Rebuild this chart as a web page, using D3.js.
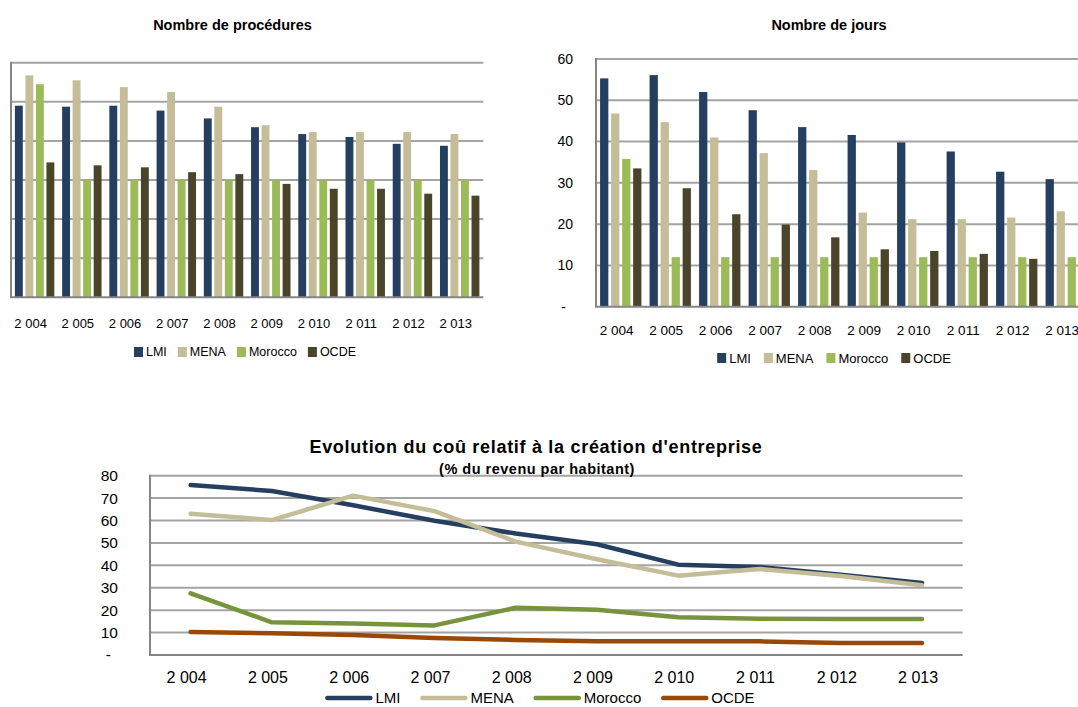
<!DOCTYPE html>
<html><head><meta charset="utf-8">
<script src="https://cdn.jsdelivr.net/npm/d3@7"></script>
<style>
body{margin:0;background:#fff}
svg{display:block}
text{font-family:"Liberation Sans",Arial,sans-serif;fill:#000}
</style>
</head><body>
<svg id="c" width="1078" height="707"></svg>
<script>
// ---------- DATA ----------
const years = [2004,2005,2006,2007,2008,2009,2010,2011,2012,2013];
const yearLabels = ["2 004","2 005","2 006","2 007","2 008","2 009","2 010","2 011","2 012","2 013"];
const seriesNames = ["LMI","MENA","Morocco","OCDE"];
const barColors = ["#243F60","#C4BD97","#9BBB59","#4A452A"];
const lineColors = ["#243F60","#C4BD97","#77933C","#984807"];

// Nombre de procédures
const procLMI     = [9.8,9.75,9.8,9.55,9.15,8.7,8.35,8.2,7.85,7.75];
const procMENA    = [11.35,11.1,10.75,10.5,9.75,8.8,8.45,8.45,8.45,8.35];
const procMorocco = [10.9,6,6,6,6,6,6,6,6,6];
const procOCDE    = [6.9,6.75,6.65,6.4,6.3,5.8,5.55,5.55,5.3,5.2];
const procTicks   = [0,2,4,6,8,10,12];

// Nombre de jours
const joursLMI     = [55.3,56.1,52.0,47.6,43.5,41.6,39.8,37.6,32.7,30.9];
const joursMENA    = [46.8,44.7,41.0,37.2,33.1,22.8,21.2,21.2,21.6,23.1];
const joursMorocco = [35.8,12,12,12,12,12,12,12,12,12];
const joursOCDE    = [33.5,28.7,22.4,19.9,16.8,13.9,13.5,12.8,11.6,11.1];
const joursTicks   = [0,10,20,30,40,50,60];

// Coût (% du revenu par habitant)
const coutLMI     = [75.8,73.2,66.8,59.9,54.2,49.4,40.3,39.3,35.8,32.1];
const coutMENA    = [63.0,60.2,71.1,64.2,50.6,42.7,35.4,38.4,35.2,31.1];
const coutMorocco = [27.5,14.6,14.0,13.2,21.1,20.2,16.8,16.2,16.1,16.1];
const coutOCDE    = [10.3,9.7,8.9,7.6,6.7,6.1,6.1,6.1,5.4,5.4];
const coutTicks   = [0,10,20,30,40,50,60,70,80];

const fmtTick = v => v === 0 ? "-" : String(v);

const svg = d3.select("#c");
const GRID = "#a3a3a3", AXIS = "#858585";

// ---------- BAR CHARTS ----------
function barChart(cfg){
  const g = svg.append("g");
  const series = cfg.series;
  const x0 = d3.scaleBand().domain(years).range([cfg.left, cfg.right]).paddingInner(0.165).paddingOuter(0.0825);
  const x1 = d3.scaleBand().domain(d3.range(series.length)).range([0, x0.bandwidth()]).padding(0.25).paddingOuter(0);
  const y = d3.scaleLinear().domain([0, d3.max(cfg.ticks)]).range([cfg.bottom, cfg.top]);

  g.append("g").selectAll("line").data(cfg.ticks.filter(t=>t>0)).join("line")
    .attr("x1", cfg.left).attr("x2", cfg.gridRight)
    .attr("y1", d=>y(d)).attr("y2", d=>y(d))
    .attr("stroke", GRID).attr("stroke-width", 2);

  const groups = g.append("g").selectAll("g").data(years).join("g")
    .attr("transform", d=>`translate(${x0(d)},0)`);
  groups.selectAll("rect").data((d,i)=>series.map((s,k)=>({k, v:s[i]}))).join("rect")
    .attr("x", d=>x1(d.k)).attr("width", x1.bandwidth())
    .attr("y", d=>y(d.v)).attr("height", d=>y(0)-y(d.v))
    .attr("fill", d=>barColors[d.k]);

  g.append("line").attr("x1", cfg.left).attr("x2", cfg.left).attr("y1", cfg.top-1).attr("y2", cfg.bottom)
    .attr("stroke", AXIS).attr("stroke-width", 2);
  g.append("line").attr("x1", cfg.left-1).attr("x2", cfg.gridRight).attr("y1", cfg.bottom).attr("y2", cfg.bottom)
    .attr("stroke", AXIS).attr("stroke-width", 2);

  if (cfg.showY){
    g.append("g").selectAll("text").data(cfg.ticks).join("text")
      .attr("x", cfg.left - 23).attr("dx", d=>d===0?-7:0).attr("y", d=>y(d)).attr("dy","0.35em")
      .attr("text-anchor","end").style("font-size","14px").text(fmtTick);
  }
  g.append("g").selectAll("text").data(years).join("text")
    .attr("x", d=>x0(d)+x0.bandwidth()/2 - 4).attr("y", cfg.xLabelY).attr("dy","0.35em")
    .attr("text-anchor","middle").style("font-size", cfg.xFont+"px")
    .text((d,i)=>yearLabels[i]);

  g.append("text").attr("x", cfg.titleX).attr("y", cfg.titleY).attr("dy","0.35em")
    .attr("text-anchor","middle").style("font-size","14.5px").style("font-weight","bold").text(cfg.title);

  const leg = g.append("g");
  let cx = 0;
  seriesNames.forEach((n,k)=>{
    const it = leg.append("g").attr("transform", `translate(${cx},0)`);
    it.append("rect").attr("x",0).attr("y",-5).attr("width",9).attr("height",10).attr("fill", barColors[k]);
    const t = it.append("text").attr("x",12).attr("dy","0.35em").style("font-size", cfg.legFont+"px").text(n);
    cx += 12 + t.node().getComputedTextLength() + cfg.legGap;
  });
  const w = cx - cfg.legGap;
  leg.attr("transform", `translate(${cfg.legCx - w/2},${cfg.legY})`);
}

barChart({
  series:[procLMI,procMENA,procMorocco,procOCDE], ticks:procTicks,
  left:11, right:483.3, gridRight:483.3, top:62.7, bottom:297.3, showY:false,
  xLabelY:323, xFont:13, title:"Nombre de procédures", titleX:232.5, titleY:25,
  legY:352, legCx:245, legFont:12.5, legGap:11
});
barChart({
  series:[joursLMI,joursMENA,joursMorocco,joursOCDE], ticks:joursTicks,
  left:596, right:1091, gridRight:1091, top:59, bottom:306.7, showY:true,
  xLabelY:330, xFont:13.5, title:"Nombre de jours", titleX:829, titleY:25,
  legY:358, legCx:834, legFont:13, legGap:13
});

// ---------- LINE CHART ----------
(function(){
  const left=150, right=962.7, top=475.7, bottom=655;
  const g = svg.append("g");
  const x = d3.scalePoint().domain(years).range([left, right]).padding(0.5);
  const y = d3.scaleLinear().domain([0, d3.max(coutTicks)]).range([bottom, top]);
  const series = [coutLMI, coutMENA, coutMorocco, coutOCDE];

  g.append("g").selectAll("line").data(coutTicks.filter(t=>t>0)).join("line")
    .attr("x1", left).attr("x2", right).attr("y1", d=>y(d)).attr("y2", d=>y(d))
    .attr("stroke", GRID).attr("stroke-width", 2);
  g.append("line").attr("x1", left).attr("x2", left).attr("y1", top-1).attr("y2", bottom)
    .attr("stroke", AXIS).attr("stroke-width", 2);
  g.append("line").attr("x1", left-1).attr("x2", right).attr("y1", bottom).attr("y2", bottom)
    .attr("stroke", AXIS).attr("stroke-width", 2);

  const line = d3.line().x((d,i)=>x(years[i])).y(d=>y(d));
  g.append("g").selectAll("path").data(series).join("path")
    .attr("d", line).attr("fill","none")
    .attr("stroke", (d,k)=>lineColors[k]).attr("stroke-width", 4.5)
    .attr("stroke-linejoin","round").attr("stroke-linecap","round");

  g.append("g").selectAll("text").data(coutTicks).join("text")
    .attr("x", left-32).attr("dx", d=>d===0?-7:0).attr("y", d=>y(d)).attr("dy","0.35em")
    .attr("text-anchor","end").style("font-size","15.5px").text(fmtTick);
  g.append("g").selectAll("text").data(years).join("text")
    .attr("x", d=>x(d)-4).attr("y", 677).attr("dy","0.35em")
    .attr("text-anchor","middle").style("font-size","16px").text((d,i)=>yearLabels[i]);

  g.append("text").attr("x", 536).attr("y", 447).attr("dy","0.35em").attr("text-anchor","middle")
    .style("font-size","18px").style("font-weight","bold").style("letter-spacing","0.7px")
    .text("Evolution du coû relatif à la création d'entreprise");
  g.append("text").attr("x", 537).attr("y", 469).attr("dy","0.35em").attr("text-anchor","middle")
    .style("font-size","14.5px").style("font-weight","bold").style("letter-spacing","0.5px")
    .text("(% du revenu par habitant)");

  const leg = g.append("g");
  let cx = 0; const gap = 20;
  seriesNames.forEach((n,k)=>{
    const it = leg.append("g").attr("transform", `translate(${cx},0)`);
    it.append("line").attr("x1",2).attr("x2",45).attr("stroke", lineColors[k]).attr("stroke-width",4.5).attr("stroke-linecap","round");
    const t = it.append("text").attr("x",50).attr("dy","0.35em").style("font-size","15px").text(n);
    cx += 50 + t.node().getComputedTextLength() + gap;
  });
  const w = cx - gap;
  leg.attr("transform", `translate(${540 - w/2},698)`);
})();
</script>
</body></html>
